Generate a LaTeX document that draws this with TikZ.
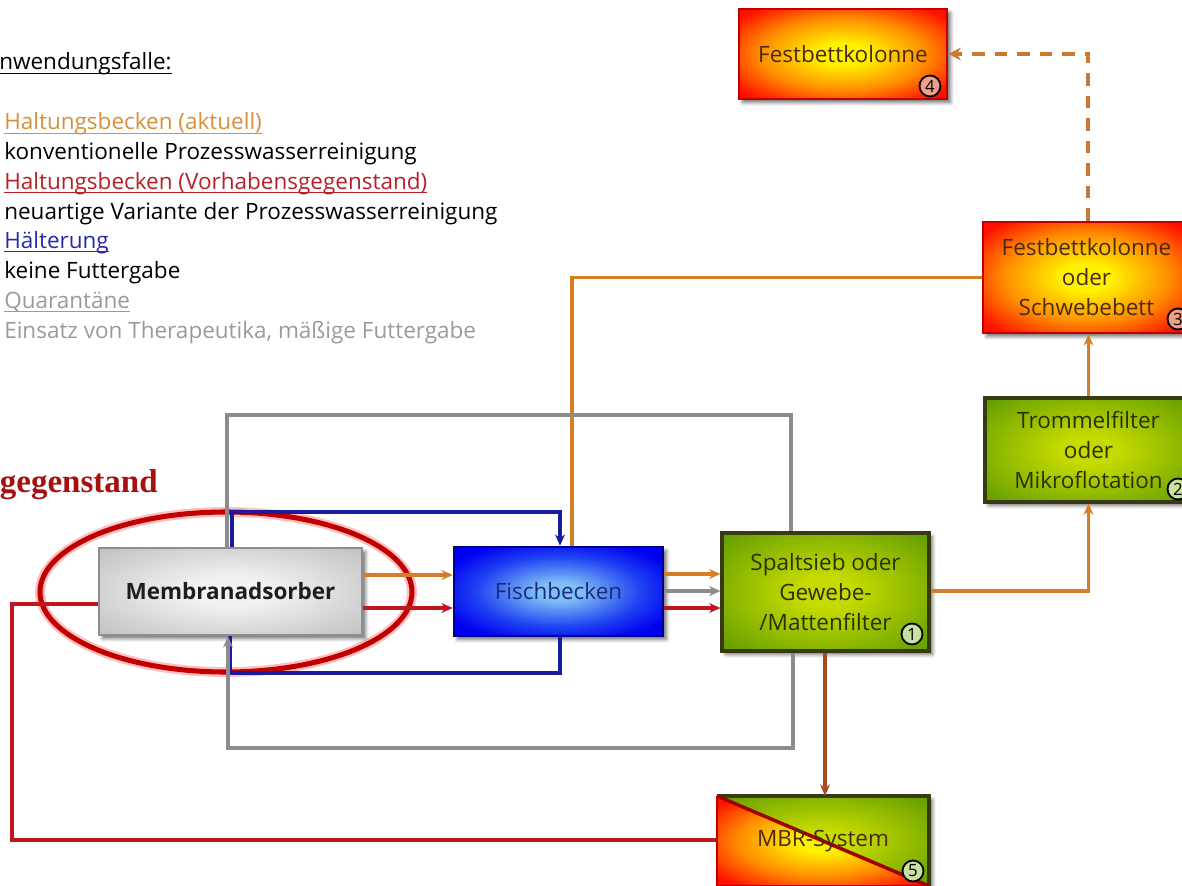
\documentclass[tikz,border=0pt]{standalone}
\usepackage{fontspec}
\setmainfont{Open Sans}
\newfontfamily\serifbold{Liberation Serif}
\newcommand\uln[1]{\setbox0\hbox{#1}\rlap{\vrule height -1.8pt depth 2.6pt width \wd0}\box0}
\usetikzlibrary{arrows.meta,shapes.geometric,shadows.blur}
\definecolor{cor}{HTML}{D47F26}
\definecolor{cdash}{HTML}{C97A2E}
\definecolor{cred}{HTML}{C0161E}
\definecolor{cblue}{HTML}{1A1A9A}
\definecolor{cgray}{HTML}{8C8C8C}
\definecolor{cbrown}{HTML}{A64B1E}
\definecolor{torange}{HTML}{D4903A}
\definecolor{tred}{HTML}{B82025}
\definecolor{tblue}{HTML}{2828B0}
\definecolor{tgray}{HTML}{9A9A9A}
\definecolor{tdark}{HTML}{1E1E1E}
\definecolor{grin}{HTML}{F2F2F2}
\definecolor{grout}{HTML}{A6A6A6}
\definecolor{grbord}{HTML}{8E8E8E}
\definecolor{blin}{HTML}{80C0F5}
\definecolor{blmid}{HTML}{1E40F2}
\definecolor{blout}{HTML}{0000F0}
\definecolor{blbord}{HTML}{000090}
\definecolor{bltext}{HTML}{1C2A7A}
\definecolor{gin}{HTML}{C4DA00}
\definecolor{gout}{HTML}{5E9A00}
\definecolor{gbord}{HTML}{3A3A12}
\definecolor{gtext}{HTML}{2A3000}
\definecolor{hin}{HTML}{FFF200}
\definecolor{hmid}{HTML}{FF8C00}
\definecolor{hout}{HTML}{FF1000}
\definecolor{hbord}{HTML}{C00000}
\definecolor{htext}{HTML}{4A2A10}
\definecolor{ellred}{HTML}{C00000}
\definecolor{gegred}{HTML}{A81010}
\definecolor{ngreen}{HTML}{C8E0A0}
\definecolor{nred}{HTML}{F0A088}
\pgfdeclareradialshading{shgray}{\pgfpointorigin}{color(0bp)=(grin); color(8bp)=(grin); color(50bp)=(grout); color(72bp)=(grout)}
\pgfdeclareradialshading{shblue}{\pgfpointorigin}{color(0bp)=(blin); color(5bp)=(blin); color(20bp)=(blmid); color(30bp)=(blout); color(72bp)=(blout)}
\pgfdeclareradialshading{shgreen}{\pgfpointorigin}{color(0bp)=(gin); color(7bp)=(gin); color(36bp)=(gout); color(72bp)=(gout)}
\pgfdeclareradialshading{shhot}{\pgfpointorigin}{color(0bp)=(hin); color(6bp)=(hin); color(20bp)=(hmid); color(32bp)=(hout); color(72bp)=(hout)}
\begin{document}
\begin{tikzpicture}[x=0.025cm,y=-0.025cm,
  shad/.style={blur shadow={shadow xshift=2.5pt,shadow yshift=-2.5pt,shadow blur radius=2.5pt,shadow opacity=55}},
  box/.style={rectangle,inner sep=0pt,align=center,shad,font=\fontsize{16}{21.3}\selectfont},
  graybox/.style={box,shade,shading=shgray,draw=grbord,line width=1.8pt,text=tdark,font=\fontsize{16}{21.3}\selectfont\bfseries},
  bluebox/.style={box,shade,shading=shblue,draw=blbord,line width=1.8pt,text=bltext},
  greenbox/.style={box,shade,shading=shgreen,draw=gbord,line width=2.2pt,text=gtext},
  hotbox/.style={box,shade,shading=shhot,draw=hbord,line width=1.8pt,text=htext},
  numc/.style={circle,draw=black,line width=1.3pt,inner sep=0pt,minimum size={21*0.025cm},font=\fontsize{12}{12}\selectfont},
  legend/.style={anchor=base west,inner sep=0pt,font=\fontsize{16}{19}\selectfont},
  conn/.style={line width=2.4pt},
  arr/.style={-{Stealth[length=8pt,width=7pt]}},
  orangeline/.style={conn,draw=cor},
  redline/.style={conn,draw=cred},
  blueline/.style={conn,draw=cblue},
  grayline/.style={conn,draw=cgray},
  brownline/.style={conn,draw=cbrown}]
\useasboundingbox (0,0) rectangle (1182,886);
\clip (0,0) rectangle (1182,886);

% legend
\node[legend] (lt) at (-1,70) {\uln{nwendungsfalle:}};
\node[legend,text=torange] (l1) at (4,130) {\uln{Haltungsbecken (aktuell)}};
\node[legend] (l2) at (4,159.7) {konventionelle Prozesswasserreinigung};
\node[legend,text=tred] (l3) at (4,189.4) {\uln{Haltungsbecken (Vorhabensgegenstand)}};
\node[legend] (l4) at (4,219) {neuartige Variante der Prozesswasserreinigung};
\node[legend,text=tblue] (l5) at (4,248.8) {\uln{Hälterung}};
\node[legend] (l6) at (4,278.5) {keine Futtergabe};
\node[legend,text=tgray] (l7) at (4,308.2) {\uln{Quarantäne}};
\node[legend,text=tgray] (l8) at (4,338) {Einsatz von Therapeutika, mäßige Futtergabe};

\node[anchor=base east,inner sep=0pt,text=gegred,font=\serifbold\fontsize{23.5}{24}\selectfont\bfseries] (geg) at (158,492) {gegenstand};

% ellipse
\node[ellipse,draw=ellred,line width=3.6pt,minimum width={372*0.025cm},minimum height={160*0.025cm},inner sep=0pt,
  preaction={draw=red!25,line width=7pt}] (ell) at (226,592) {};

% boxes
\node[graybox,minimum width={263*0.025cm},minimum height={87*0.025cm}] (mem) at (230.5,591.5) {Membranadsorber};
\node[bluebox,minimum width={209*0.025cm},minimum height={89*0.025cm}] (fisch) at (558.5,591.5) {Fischbecken};
\node[greenbox,minimum width={207*0.025cm},minimum height={118*0.025cm}] (spalt) at (825.5,592) {Spaltsieb oder\\Gewebe-\\/Mattenfilter};
\node[greenbox,minimum width={207*0.025cm},minimum height={104*0.025cm}] (tromm) at (1088.5,450) {Trommelfilter\\oder\\Mikroflotation};
\node[hotbox,minimum width={207*0.025cm},minimum height={111*0.025cm}] (fest3) at (1086.5,277.5) {Festbettkolonne\\oder\\Schwebebett};
\node[hotbox,minimum width={208*0.025cm},minimum height={90*0.025cm}] (fest4) at (843,54) {Festbettkolonne};

% MBR split box
\path[shad] (717,796) rectangle (929,886);
\shade[shading=shhot] (717,796) -- (717,886) -- (929,886) -- cycle;
\shade[shading=shgreen] (717,796) -- (929,796) -- (929,886) -- cycle;
\draw[hbord,line width=1.8pt] (717,796) -- (717,886) -- (929,886);
\draw[gbord,line width=2.2pt] (717,796) -- (929,796) -- (929,886);
\draw[hbord!85!black,line width=2.5pt] (717,796) -- (929,886);
\node[inner sep=0pt,minimum width={212*0.025cm},minimum height={90*0.025cm},text=htext,font=\fontsize{16}{21.3}\selectfont] (mbr) at (823,841) {MBR-System};

% number circles
\node[numc,fill=ngreen] (n1) at (912,634) {1};
\node[numc,fill=ngreen] (n2) at (1178,489) {2};
\node[numc,fill=nred] (n3) at (1178,319) {3};
\node[numc,fill=nred] (n4) at (930,86) {4};
\node[numc,fill=ngreen] (n5) at (913,871) {5};

% connectors
\draw[orangeline,arr] (mem.east |- 0,575) -- (fisch.west |- 0,575);
\draw[redline,arr] (mem.east |- 0,608) -- (fisch.west |- 0,608);
\draw[orangeline,arr] (fisch.east |- 0,574) -- (spalt.west |- 0,574);
\draw[grayline,arr] (fisch.east |- 0,591) -- (spalt.west |- 0,591);
\draw[redline,arr] (fisch.east |- 0,608) -- (spalt.west |- 0,608);
\draw[orangeline,arr] (spalt.east |- 0,591) -| (tromm.south);
\draw[orangeline,arr] (tromm.north) -- (tromm.north |- fest3.south);
\draw[orangeline] (fest3.west) -| (fisch.north -| 572,0);
\draw[conn,draw=cdash,line width=3.4pt,dash pattern=on 9pt off 7pt,-{Stealth[length=9pt,width=9pt]}] (fest3.north -| 1088,0) |- (fest4.east);
\draw[grayline] (mem.north -| 227,0) -- (227,415) -- (791,415) -- (spalt.north -| 791,0);
\draw[blueline,arr] (mem.north -| 232,0) -- (232,512) -- (560,512) -- (fisch.north -| 560,0);
\draw[blueline] (fisch.south -| 560,0) -- (560,673) -- (230,673) -- (mem.south -| 230,0);
\draw[grayline,arr] (spalt.south -| 793,0) -- (793,748) -- (228,748) -- (mem.south -| 228,0);
\draw[brownline,arr] (spalt.south -| 825,0) -- (mbr.north -| 825,0);
\draw[redline] (mbr.west |- 0,840) -- (12,840) -- (12,604) -- (mem.west |- 0,604);
\end{tikzpicture}
\end{document}
